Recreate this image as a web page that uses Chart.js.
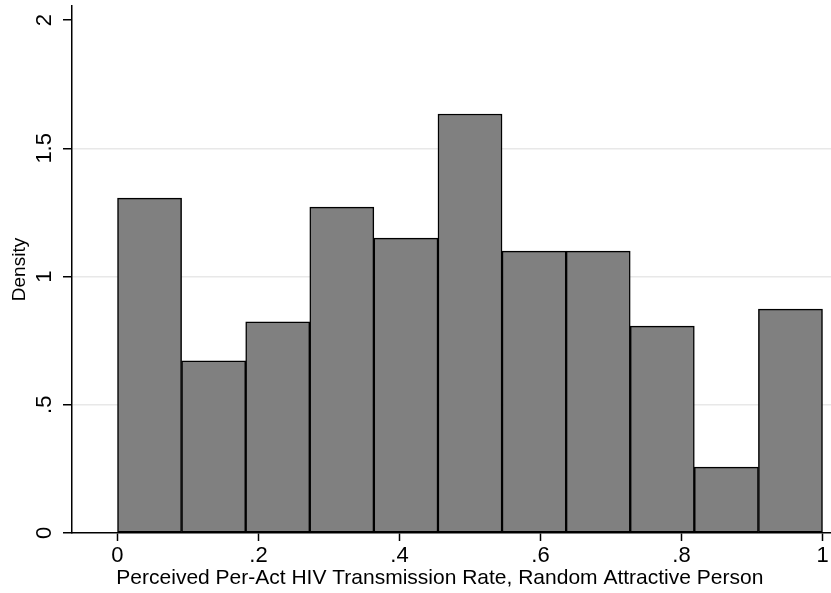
<!DOCTYPE html>
<html>
<head>
<meta charset="utf-8">
<script src="https://cdn.jsdelivr.net/npm/chart.js@4/dist/chart.umd.min.js"></script>
<style>
  html, body { margin: 0; padding: 0; background: #fff; }
</style>
</head>
<body>
<canvas id="chart" width="831" height="593"></canvas>
<script>
// histogram bins: 11 equal bins over [0, 1]
const binCenters = [0.0455, 0.1364, 0.2273, 0.3182, 0.4091, 0.5, 0.5909, 0.6818, 0.7727, 0.8636, 0.9545];
const density = [1.306, 0.671, 0.823, 1.271, 1.150, 1.634, 1.099, 1.099, 0.807, 0.257, 0.873];
const xTicks = [0, 0.2, 0.4, 0.6, 0.8, 1];
const yTicks = [0, 0.5, 1, 1.5, 2];

const fmt = v => {
    const s = String(Math.round(v * 10) / 10);
    return s.startsWith('0.') ? s.slice(1) : s;
};

const family = "'Liberation Sans', Arial, sans-serif";

new Chart(document.getElementById('chart'), {
    type: 'bar',
    data: {
        datasets: [{
            data: binCenters.map((x, i) => ({ x: x, y: density[i] })),
            backgroundColor: '#808080',
            borderColor: '#000000',
            borderWidth: 1.5,
            borderSkipped: false,
            barPercentage: 1,
            categoryPercentage: 1,
        }],
    },
    options: {
        responsive: false,
        animation: false,
        layout: { padding: { top: 6, right: 0, left: 0, bottom: 0 } },
        plugins: {
            legend: { display: false },
            tooltip: { enabled: false },
        },
        scales: {
            x: {
                type: 'linear',
                offset: false,
                min: -0.0645,
                max: 1.012,
                afterBuildTicks: s => { s.ticks = xTicks.map(v => ({ value: v })); },
                afterFit: s => { s.height = 60; s.paddingLeft = 0; s.paddingRight = 0; },
                grid: { offset: false, drawOnChartArea: false, tickLength: 8, tickColor: '#000', tickWidth: 1.5 },
                border: { color: '#000', width: 1.5 },
                ticks: {
                    callback: v => fmt(v),
                    color: '#000',
                    font: { family: family, size: 22 },
                    padding: 2,
                    maxRotation: 0,
                    autoSkip: false,
                },
                title: {
                    display: true,
                    // trailing spaces nudge the centred title a little left, like the original
                    text: 'Perceived Per-Act HIV Transmission Rate, Random Attractive Person    ',
                    color: '#000',
                    font: { family: family, size: 21 },
                    padding: { top: 0, bottom: 2 },
                },
            },
            y: {
                min: 0,
                max: 2.055,
                afterBuildTicks: s => { s.ticks = yTicks.map(v => ({ value: v })); },
                afterFit: s => { s.width = 72; s.paddingTop = 0; s.paddingBottom = 0; },
                grid: {
                    color: ctx => (ctx.tick && (ctx.tick.value === 0 || ctx.tick.value === 2)) ? 'rgba(0,0,0,0)' : '#e8e8e8',
                    lineWidth: 1.5,
                    tickLength: 9,
                    tickColor: '#000',
                    tickWidth: 1.5,
                },
                border: { color: '#000', width: 1.5 },
                ticks: {
                    callback: v => fmt(v),
                    color: '#000',
                    font: { family: family, size: 22 },
                    minRotation: 90,
                    maxRotation: 90,
                    crossAlign: 'center',
                    padding: 3,
                    autoSkip: false,
                },
                title: {
                    display: true,
                    text: 'Density',
                    color: '#000',
                    font: { family: family, size: 19 },
                    padding: { top: 8, bottom: 0 },
                },
            },
        },
    },
});
</script>
</body>
</html>
